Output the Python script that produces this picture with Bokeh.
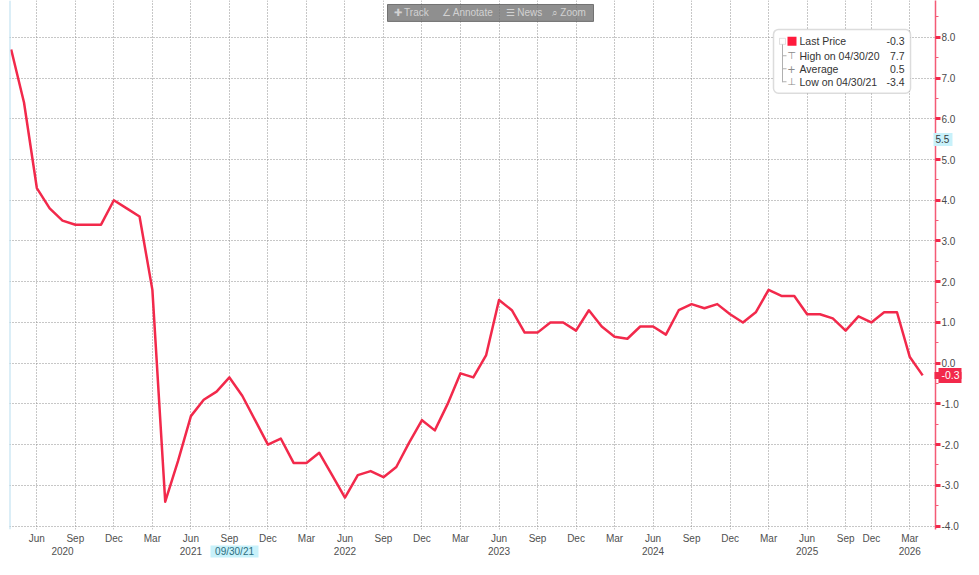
from bokeh.plotting import figure
from bokeh.models import (Range1d, LinearAxis, FixedTicker, Span, Label,
                          BoxAnnotation, ColumnDataSource, NumeralTickFormatter)
from bokeh.embed import file_html
from bokeh.resources import INLINE

# ---------------- data ----------------
# monthly observations; Oct 2025 is missing from the series
months = ["2020-04", "2020-05", "2020-06", "2020-07", "2020-08", "2020-09",
          "2020-10", "2020-11", "2020-12", "2021-01", "2021-02", "2021-03",
          "2021-04", "2021-05", "2021-06", "2021-07", "2021-08", "2021-09",
          "2021-10", "2021-11", "2021-12", "2022-01", "2022-02", "2022-03",
          "2022-04", "2022-05", "2022-06", "2022-07", "2022-08", "2022-09",
          "2022-10", "2022-11", "2022-12", "2023-01", "2023-02", "2023-03",
          "2023-04", "2023-05", "2023-06", "2023-07", "2023-08", "2023-09",
          "2023-10", "2023-11", "2023-12", "2024-01", "2024-02", "2024-03",
          "2024-04", "2024-05", "2024-06", "2024-07", "2024-08", "2024-09",
          "2024-10", "2024-11", "2024-12", "2025-01", "2025-02", "2025-03",
          "2025-04", "2025-05", "2025-06", "2025-07", "2025-08", "2025-09",
          "2025-11", "2025-12", "2026-01", "2026-02", "2026-03", "2026-04"]

values = [7.7, 6.4, 4.3, 3.8, 3.5, 3.4,
          3.4, 3.4, 4.0, 3.8, 3.6, 1.8,
          -3.4, -2.4, -1.3, -0.9, -0.7, -0.35,
          -0.8, -1.4, -2.0, -1.85, -2.45, -2.45,
          -2.2, -2.75, -3.3, -2.75, -2.65, -2.8,
          -2.55, -1.95, -1.4, -1.65, -1.0, -0.25,
          -0.35, 0.2, 1.55, 1.3, 0.75, 0.75,
          1.0, 1.0, 0.8, 1.3, 0.9, 0.65,
          0.6, 0.9, 0.9, 0.7, 1.3, 1.45,
          1.35, 1.45, 1.2, 1.0, 1.25, 1.8,
          1.65, 1.65, 1.2, 1.2, 1.1, 0.8,
          1.15, 1.0, 1.25, 1.25, 0.15, -0.3]

tick_months = ["2020-06", "2020-09", "2020-12", "2021-03", "2021-06", "2021-09",
               "2021-12", "2022-03", "2022-06", "2022-09", "2022-12", "2023-03",
               "2023-06", "2023-09", "2023-12", "2024-03", "2024-06", "2024-09",
               "2024-12", "2025-03", "2025-06", "2025-09", "2025-12", "2026-03"]
tick_labels = ["Jun", "Sep", "Dec", "Mar", "Jun", "Sep", "Dec", "Mar", "Jun", "Sep",
               "Dec", "Mar", "Jun", "Sep", "Dec", "Mar", "Jun", "Sep", "Dec", "Mar",
               "Jun", "Sep", "Dec", "Mar"]

year_labels = ["2020", "2021", "2022", "2023", "2024", "2025", "2026"]
year_label_months = ["2020-08", "2021-06", "2022-06", "2023-06", "2024-06",
                     "2025-06", "2026-03"]

y_ticks = [-4, -3, -2, -1, 0, 1, 2, 3, 4, 5, 6, 7, 8]
y_minor = [-3.5, -2.5, -1.5, -0.5, 0.5, 1.5, 2.5, 3.5, 4.5, 5.5, 6.5, 7.5, 8.5]

legend_names = ["Last Price", "High on 04/30/20", "Average", "Low on 04/30/21"]
legend_values = ["-0.3", "7.7", "0.5", "-3.4"]
legend_icons = ["", "\u22a4", "+", "\u22a5"]

last_label = "-0.3"
cursor_value = 5.5
cursor_value_label = "5.5"
cursor_date_label = "09/30/21"
cursor_date_month = "2021-09"

toolbar_items = ["\u271a Track", "\u2220 Annotate", "\u2630 News", "\u2315 Zoom"]

# ---------------- geometry ----------------
W, H = 963, 559
LEFT = 9                 # frame left (px)
RIGHT_PANEL = 28         # right axis panel width (px)
BOTTOM_PANEL = 28        # bottom axes panel height (px)
FRAME_W = W - LEFT - RIGHT_PANEL
FRAME_H = H - BOTTOM_PANEL
X0, X1 = -0.13, 72.0
PX_PER_UNIT_Y = 40.88
Y1 = 8.905
Y0 = Y1 - FRAME_H / PX_PER_UNIT_Y
SX = FRAME_W / (X1 - X0)

def px2x(px):
    return X0 + (px - LEFT) / SX

def py2y(py):
    return Y1 - py / PX_PER_UNIT_Y

RED = "#f2294b"
AXIS_RED = "#f45a76"
GRID = "#8f8f8f"
CYAN = "#c8f1fa"
FONT = "Liberation Sans"

x_idx = list(range(len(months)))
src = ColumnDataSource(dict(x=x_idx, y=values))

p = figure(width=W, height=H, output_backend="svg", toolbar_location=None,
           x_range=Range1d(X0, X1), y_range=Range1d(Y0, Y1),
           y_axis_location="right", min_border_left=LEFT, min_border_top=0,
           min_border_right=RIGHT_PANEL, min_border_bottom=BOTTOM_PANEL)
p.outline_line_color = None
p.background_fill_color = "white"
p.border_fill_color = "white"

# grid
tick_pos = [months.index(m) for m in tick_months]
p.xgrid.ticker = FixedTicker(ticks=tick_pos)
p.ygrid.ticker = FixedTicker(ticks=y_ticks)
for g in (p.xgrid, p.ygrid):
    g.grid_line_color = GRID
    g.grid_line_dash = "1 2"
    g.grid_line_width = 1

# x axis (months)
xa = p.xaxis[0]
xa.ticker = FixedTicker(ticks=tick_pos)
xa.major_label_overrides = {pos: lab for pos, lab in zip(tick_pos, tick_labels)}
xa.axis_line_color = None
xa.major_tick_line_color = None
xa.minor_tick_line_color = None
xa.major_tick_out = 0
xa.major_tick_in = 0
xa.major_label_standoff = 3
xa.major_label_text_font = FONT
xa.major_label_text_font_size = "10px"
xa.major_label_text_color = "#505050"

# x axis (years)
year_pos = [months.index(m) for m in year_label_months]
yr_axis = LinearAxis(ticker=FixedTicker(ticks=year_pos),
                     major_label_overrides={pos: lab for pos, lab in zip(year_pos, year_labels)})
yr_axis.axis_line_color = None
yr_axis.major_tick_line_color = None
yr_axis.minor_tick_line_color = None
yr_axis.major_tick_out = 0
yr_axis.major_tick_in = 0
yr_axis.major_label_standoff = 0
yr_axis.major_label_text_font = FONT
yr_axis.major_label_text_font_size = "10px"
yr_axis.major_label_text_color = "#505050"
p.add_layout(yr_axis, "below")

# y axis (right, red)
ya = p.yaxis[0]
ya.ticker = FixedTicker(ticks=y_ticks, minor_ticks=y_minor)
ya.formatter = NumeralTickFormatter(format="0.0")
ya.axis_line_color = AXIS_RED
ya.axis_line_width = 1.5
ya.major_tick_line_color = RED
ya.major_tick_line_width = 3
ya.major_tick_out = 5
ya.major_tick_in = 0
ya.minor_tick_line_color = AXIS_RED
ya.minor_tick_out = 3
ya.minor_tick_in = 0
ya.major_label_standoff = 1
ya.major_label_text_font = FONT
ya.major_label_text_font_size = "10px"
ya.major_label_text_color = "#4a4a4a"

# last price tag on the right axis (red box drawn by wide ticks, white label)
last_axis = LinearAxis(ticker=FixedTicker(ticks=[values[-1]], minor_ticks=[values[-1]]),
                       major_label_overrides={values[-1]: last_label})
last_axis.axis_line_color = None
last_axis.major_tick_line_color = RED
last_axis.major_tick_line_width = 15
last_axis.major_tick_in = 23
last_axis.major_tick_out = 0
last_axis.minor_tick_line_color = RED
last_axis.minor_tick_line_width = 7
last_axis.minor_tick_in = 27
last_axis.minor_tick_out = 0
last_axis.major_label_standoff = -20
last_axis.major_label_text_font = FONT
last_axis.major_label_text_font_size = "10.5px"
last_axis.major_label_text_color = "white"
p.add_layout(last_axis, "right")

# cursor value tag "5.5" on the right axis (cyan)
cur_axis = LinearAxis(ticker=FixedTicker(ticks=[cursor_value]),
                      major_label_overrides={cursor_value: cursor_value_label})
cur_axis.axis_line_color = None
cur_axis.minor_tick_line_color = None
cur_axis.minor_tick_out = 0
cur_axis.minor_tick_in = 0
cur_axis.major_tick_line_color = CYAN
cur_axis.major_tick_line_width = 13
cur_axis.major_tick_in = 29
cur_axis.major_tick_out = -10
cur_axis.major_label_standoff = -27
cur_axis.major_label_text_font = FONT
cur_axis.major_label_text_font_size = "10px"
cur_axis.major_label_text_color = "#3a3a3a"
p.add_layout(cur_axis, "right")

# cursor date tag "09/30/21" on the bottom (cyan)
cur_x = months.index(cursor_date_month) + 0.4
date_axis = LinearAxis(ticker=FixedTicker(ticks=[cur_x]),
                       major_label_overrides={cur_x: cursor_date_label})
date_axis.axis_line_color = None
date_axis.minor_tick_line_color = None
date_axis.minor_tick_out = 0
date_axis.minor_tick_in = 0
date_axis.major_tick_line_color = CYAN
date_axis.major_tick_line_width = 48
date_axis.major_tick_in = 12
date_axis.major_tick_out = 0
date_axis.major_label_standoff = -12
date_axis.major_label_text_font = FONT
date_axis.major_label_text_font_size = "10px"
date_axis.major_label_text_color = "#2c6e7e"
p.add_layout(date_axis, "below")

# left light-blue border
p.add_layout(Span(location=X0, dimension="height", line_color="#b7def0", line_width=2))

# series line
p.line("x", "y", source=src, line_color=RED, line_width=2.5, line_join="round")

# ---------------- toolbar overlay ----------------
p.add_layout(BoxAnnotation(left=px2x(387), right=px2x(593), top=py2y(4), bottom=py2y(21),
                           fill_color="#707070", fill_alpha=0.78,
                           line_color="#5c5c5c", line_alpha=0.8, line_width=1))
for txt, px in zip(toolbar_items, [393, 441, 505, 551]):
    p.add_layout(Label(x=px2x(px), y=py2y(12.5), text=txt, text_font=FONT,
                       text_font_size="10px", text_color="#d2d2d2",
                       text_baseline="middle", text_align="left"))

# ---------------- legend box (placed relative to the right axis) ----------------
AXIS_PX = LEFT + FRAME_W
L_RIGHT = AXIS_PX - 25
L_LEFT = L_RIGHT - 137
p.add_layout(BoxAnnotation(left=px2x(L_LEFT), right=px2x(L_RIGHT), top=py2y(29), bottom=py2y(93),
                           fill_color="white", fill_alpha=1.0, line_color="#8a8a8a",
                           line_width=1.5, border_radius=5))
row_y = [41, 55.5, 68.5, 81.5]
p.add_layout(BoxAnnotation(left=px2x(L_LEFT + 8.5), right=px2x(L_LEFT + 9.5),
                           top=py2y(44), bottom=py2y(82),
                           fill_color="#b0b0b0", fill_alpha=1.0, line_color=None))
for ry in row_y[1:]:
    p.add_layout(BoxAnnotation(left=px2x(L_LEFT + 9), right=px2x(L_LEFT + 13),
                               top=py2y(ry - 0.5), bottom=py2y(ry + 0.5),
                               fill_color="#b0b0b0", fill_alpha=1.0, line_color=None))
p.add_layout(BoxAnnotation(left=px2x(L_LEFT + 6), right=px2x(L_LEFT + 12),
                           top=py2y(38), bottom=py2y(44),
                           fill_color="white", fill_alpha=1.0, line_color="#9a9a9a", line_width=1))
p.add_layout(BoxAnnotation(left=px2x(L_LEFT + 14), right=px2x(L_LEFT + 23),
                           top=py2y(36.5), bottom=py2y(45.5),
                           fill_color="#ff1a3c", fill_alpha=1.0, line_color=None))
for ry, name, val, icon in zip(row_y, legend_names, legend_values, legend_icons):
    if icon:
        p.add_layout(Label(x=px2x(L_LEFT + 18), y=py2y(ry), text=icon, text_font="DejaVu Sans",
                           text_font_size="10px", text_color="#8a8a8a",
                           text_baseline="middle", text_align="center"))
    p.add_layout(Label(x=px2x(L_LEFT + 26), y=py2y(ry), text=name, text_font=FONT,
                       text_font_size="10.5px", text_color="#333333",
                       text_baseline="middle", text_align="left"))
    p.add_layout(Label(x=px2x(L_RIGHT - 6), y=py2y(ry), text=val, text_font=FONT,
                       text_font_size="10.5px", text_color="#333333",
                       text_baseline="middle", text_align="right"))

open("out.html", "w").write(file_html(p, INLINE))
